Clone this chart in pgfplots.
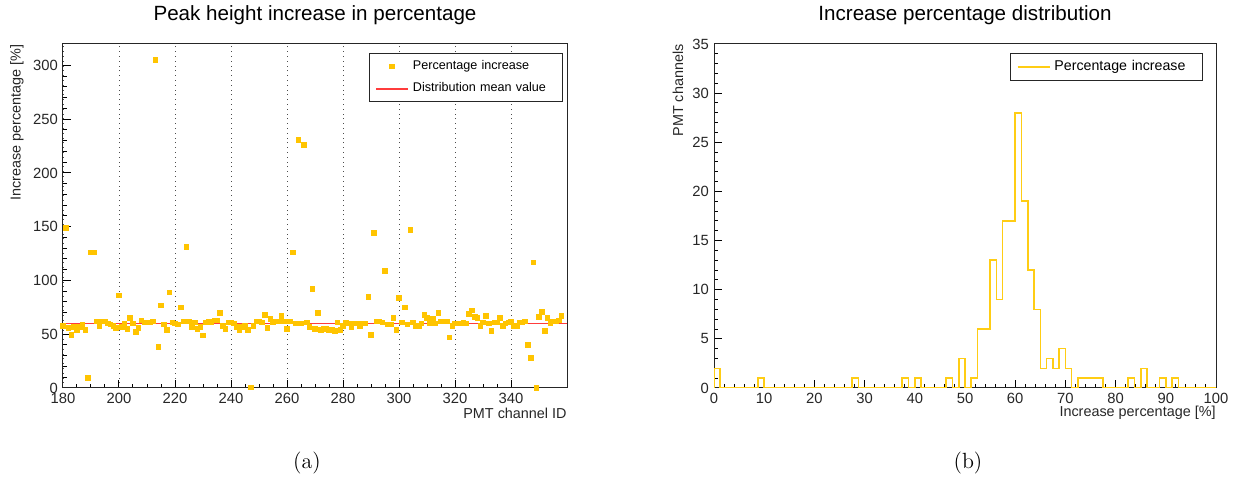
\documentclass[border=0pt]{standalone}
\usepackage{pgfplots}
\pgfplotsset{compat=1.18}
\usepackage{fontspec}
\newfontfamily\hv{Liberation Sans}
\definecolor{ptcol}{RGB}{255,196,0}
\definecolor{histcol}{RGB}{255,205,20}
\definecolor{meancol}{RGB}{255,60,60}

% ROOT-like frame: inward ticks on left/bottom only
\pgfplotsset{rootstyle/.style={
  scale only axis, anchor=south west, enlargelimits=false,
  axis line style={black!85, line width=0.5pt},
  tick style={black, line width=0.5pt},
  major tick length=4pt, minor tick length=2pt,
  xtick pos=bottom, ytick pos=left, tick align=inside,
  /pgf/number format/assume math mode=true,
  tick label style={font=\hv\fontsize{7.4}{8}\selectfont, black!85},
  xticklabel style={yshift=1pt}, yticklabel style={xshift=1pt},
  label style={font=\hv\fontsize{7.2}{8}\selectfont, black!85, inner sep=0pt},
  title style={at={(0.5,1)}, anchor=center, yshift=8.5pt, font=\hv\fontsize{10.3}{12}\selectfont},
  legend cell align=left,
  legend style={draw=black!85, line width=0.5pt,
    at={(0.993,0.974)}, anchor=north east, inner xsep=3pt, inner ysep=1.5pt, row sep=1pt},
},
markleg/.style={legend image code/.code={\draw[##1] plot coordinates {(8pt,0pt)};}},
lineleg/.style={legend image code/.code={\draw[##1] (0pt,0pt) -- (16pt,0pt);}},
}

\pgfplotstableread{
ch val
180 58
181 149
182 56
183 49.5
184 57
185 54
186 57
187 59
188 54
189 9.5
190 126
191 126
192 62
193 58
194 62
195 62
196 60
197 59
198 58
199 56
200 86
201 57
202 60
203 55
204 65
205 60
206 52
207 56
208 63
209 61
210 61
211 61
212 62
213 305
214 38
215 77
216 59
217 54
218 89
219 61
220 60
221 59
222 75
223 62
224 131
225 62
226 57
227 61
228 55
229 57
230 49
231 61
232 62
233 61
234 63
235 63
236 70
237 58
238 55
239 61
240 61
241 60
242 57
243 54
244 57
245 58
246 54
247 0.5
248 58
249 62
250 62
251 61
252 68
253 56
254 64
255 61
256 62
257 62
258 67
259 62
260 55
261 62
262 126
263 60
264 231
265 60
266 226
267 61
268 57
269 92
270 55
271 70
272 54
273 55
274 55
275 54
276 54
277 53
278 61
279 54
280 58
281 61
282 60
283 57
284 60
285 60
286 58
287 60
288 60
289 85
290 49.5
291 144
292 62
293 62
294 61
295 109
296 59
297 59
298 65
299 54
300 84
301 61
302 75
303 59
304 147
305 61
306 58
307 58
308 60
309 68
310 65
311 60
312 64
313 60
314 70
315 62
316 62
317 62
318 47
319 58
320 60
321 60
322 60
323 61
324 60
325 69
326 72
327 66
328 65
329 58
330 61
331 67
332 60
333 53
334 61
335 61
336 65
337 58
338 60
339 61
340 62
341 58
342 58
343 61
344 61
345 62
346 40
347 28
348 117
349 0
350 66
351 71
352 53
353 65
354 60
355 62
356 62
357 63
358 67
}\peakdata

% histogram: left bin edge, count (bin width 1.25)
\pgfplotstableread{
x y
0 0
0 2
1.25 0
8.75 1
10 0
27.5 1
28.75 0
37.5 1
38.75 0
40 1
41.25 0
46.25 1
47.5 0
48.75 3
50 0
51.25 1
52.5 6
53.75 6
55 13
56.25 9
57.5 17
58.75 17
60 28
61.25 19
62.5 12
63.75 8
65 2
66.25 3
67.5 2
68.75 4
70 2
71.25 0
72.5 1
73.75 1
75 1
76.25 1
77.5 0
82.5 1
83.75 0
85 2
86.25 0
88.75 1
90 0
91.25 1
92.5 0
100 0
}\histdata

\begin{document}
\begin{tikzpicture}
\useasboundingbox (0,0) rectangle (621pt,242.5pt);

\begin{axis}[rootstyle,
  at={(31.5pt,48.5pt)}, width=252pt, height=172pt,
  xmin=180, xmax=360, ymin=0, ymax=320,
  xtick={180,200,...,340}, minor x tick num=3,
  ytick={0,50,...,300}, minor y tick num=4,
  xmajorgrids, major grid style={dotted, black!70, line width=0.4pt},
  title={Peak height increase in percentage},
  xlabel={PMT channel ID},
  xlabel style={at={(axis description cs:1,0)}, anchor=east, yshift=-12.5pt},
  ylabel={Increase percentage [\%]},
  ylabel style={at={(axis description cs:0,1)}, anchor=east, yshift=23pt},
  legend style={font=\hv\fontsize{6.3}{7.5}\selectfont,
    /tikz/every even column/.append style={text width=70pt}},
]
\addplot[only marks, mark=square*, mark size=1.15pt, color=ptcol, markleg]
  table[x=ch, y=val] {\peakdata};
\addlegendentry{Percentage increase}
\addplot[meancol, line width=0.9pt, lineleg]
  coordinates {(180,60) (360,60)};
\addlegendentry{Distribution mean value}
\end{axis}

\begin{axis}[rootstyle,
  at={(357pt,48.5pt)}, width=251pt, height=172pt,
  xmin=0, xmax=100, ymin=0, ymax=35,
  xtick={0,10,...,100}, minor x tick num=4,
  ytick={0,5,...,35}, minor y tick num=4,
  title={Increase percentage distribution},
  xlabel={Increase percentage [\%]},
  xlabel style={at={(axis description cs:1,0)}, anchor=east, yshift=-12.5pt},
  ylabel={PMT channels},
  ylabel style={at={(axis description cs:0,1)}, anchor=east, yshift=18pt},
  legend style={font=\hv\fontsize{7.1}{8.5}\selectfont, at={(0.974,0.974)},
    /tikz/every even column/.append style={text width=69pt}},
]
\addplot[const plot, histcol, line width=0.8pt, lineleg]
  table[x=x, y=y] {\histdata};
\addlegendentry{Percentage increase}
\end{axis}

\node[font=\fontsize{11}{13}\selectfont] at (153.5pt,11pt) {(a)};
\node[font=\fontsize{11}{13}\selectfont] at (484pt,11pt) {(b)};
\end{tikzpicture}
\end{document}
